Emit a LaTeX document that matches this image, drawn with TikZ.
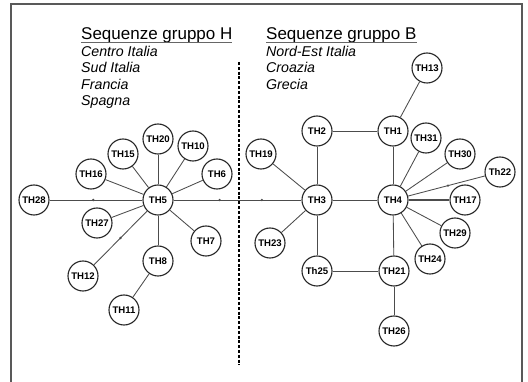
\documentclass[tikz,border=0pt]{standalone}
\usepackage{fontspec}
\setmainfont{Liberation Sans}
\begin{document}
\begin{tikzpicture}[x=1pt,y=-1pt,
  hap/.style={circle, draw=black!85, line width=1.1pt, fill=white,
    minimum size=30pt, inner sep=0pt,
    font=\bfseries\fontsize{9.6}{9.6}\selectfont},
  link/.style={draw=black!70, line width=0.85pt},
  mdot/.style={circle, fill=black!70, inner sep=0pt, minimum size=2.6pt},
  title/.style={anchor=base west, inner sep=0pt, font=\fontsize{17}{17}\selectfont},
  place/.style={anchor=base west, inner sep=0pt, font=\itshape\fontsize{14.2}{14.2}\selectfont}]
\useasboundingbox (0,0) rectangle (528,382);
\fill[white] (0,0) rectangle (528,382);
% frame
\draw[black!65, line width=1.8pt] (11,395) -- (11,4) -- (522,4) -- (522,395);

% headings
\node[title] (hH) at (81,40) {Sequenze gruppo H};
\draw[black!60, line width=0.7pt] (hH.base west) ++(0,2.3) -- ++(151,0);
\node[place] (p1) at (81,56.7) {Centro Italia};
\node[place] (p2) at (81,73) {Sud Italia};
\node[place] (p3) at (81,89.3) {Francia};
\node[place] (p4) at (81,105.6) {Spagna};

\node[title] (hB) at (266,40) {Sequenze gruppo B};
\draw[black!60, line width=0.7pt] (hB.base west) ++(0,2.3) -- ++(151,0);
\node[place] (q1) at (266,56.7) {Nord-Est Italia};
\node[place] (q2) at (266,73) {Croazia};
\node[place] (q3) at (266,89.3) {Grecia};

% separator
\draw[black, line width=2.6pt, dash pattern=on 3pt off 1.8pt] (239,62) -- (239,365);

% group H
\node[hap] (th5)  at (158,200) {TH5};
\node[hap] (th28) at (34,200)  {TH28};
\node[hap] (th16) at (91,174)  {TH16};
\node[hap] (th15) at (123,154) {TH15};
\node[hap] (th20) at (158,139) {TH20};
\node[hap] (th10) at (193,146) {TH10};
\node[hap] (th6)  at (217,174) {TH6};
\node[hap] (th27) at (97,223)  {TH27};
\node[hap] (th7)  at (206,241) {TH7};
\node[hap] (th8)  at (158,261) {TH8};
\node[hap] (th12) at (83,276)  {TH12};
\node[hap] (th11) at (124,310) {TH11};

% group B
\node[hap] (th3)  at (317,200) {TH3};
\node[hap] (th4)  at (393,200) {TH4};
\node[hap] (th2)  at (317,131) {TH2};
\node[hap] (th1)  at (393,131) {TH1};
\node[hap] (th13) at (427,68)  {TH13};
\node[hap] (th19) at (261,154) {TH19};
\node[hap] (th23) at (270,243) {TH23};
\node[hap] (th31) at (426,138) {TH31};
\node[hap] (th30) at (460,154) {TH30};
\node[hap] (th22) at (500,172) {Th22};
\node[hap] (th17) at (465,200) {TH17};
\node[hap] (th29) at (455,233) {TH29};
\node[hap] (th24) at (430,259) {TH24};
\node[hap] (th25) at (317,271) {Th25};
\node[hap] (th21) at (394,271) {TH21};
\node[hap] (th26) at (394,331) {TH26};

% links of group H
\path[link] (th28) -- node[mdot, pos=0.47] {} (th5);
\path[link] (th16) -- (th5);
\path[link] (th15) -- (th5);
\path[link] (th20) -- (th5);
\path[link] (th10) -- (th5);
\path[link] (th6)  -- (th5);
\path[link] (th27) -- (th5);
\path[link] (th7)  -- (th5);
\path[link] (th8)  -- (th5);
\path[link] (th12) -- node[mdot, pos=0.5] {} (th5);
\path[link] (th8)  -- (th11);

% link between groups
\path[link] (th5) -- node[mdot, pos=0.36] {} node[mdot, pos=0.69] {} (th3);

% links of group B
\path[link] (th19) -- (th3);
\path[link] (th23) -- (th3);
\path[link] (th2)  -- (th3);
\path[link] (th3)  -- (th25);
\path[link] (th3)  -- (th4);
\path[link] (th2)  -- (th1);
\path[link] (th1)  -- (th4);
\path[link] (th1)  -- (th13);
\path[link] (th4)  -- (th31);
\path[link] (th4)  -- (th30);
\path[link] (th4)  -- node[mdot, pos=0.52] {} (th22);
\path[link, line width=1.8pt] (th4) -- (th17);
\path[link] (th4)  -- (th29);
\path[link] (th4)  -- (th24);
\path[link] (th4)  -- (th21);
\path[link] (th25) -- (th21);
\path[link] (th21) -- (th26);
\end{tikzpicture}
\end{document}
